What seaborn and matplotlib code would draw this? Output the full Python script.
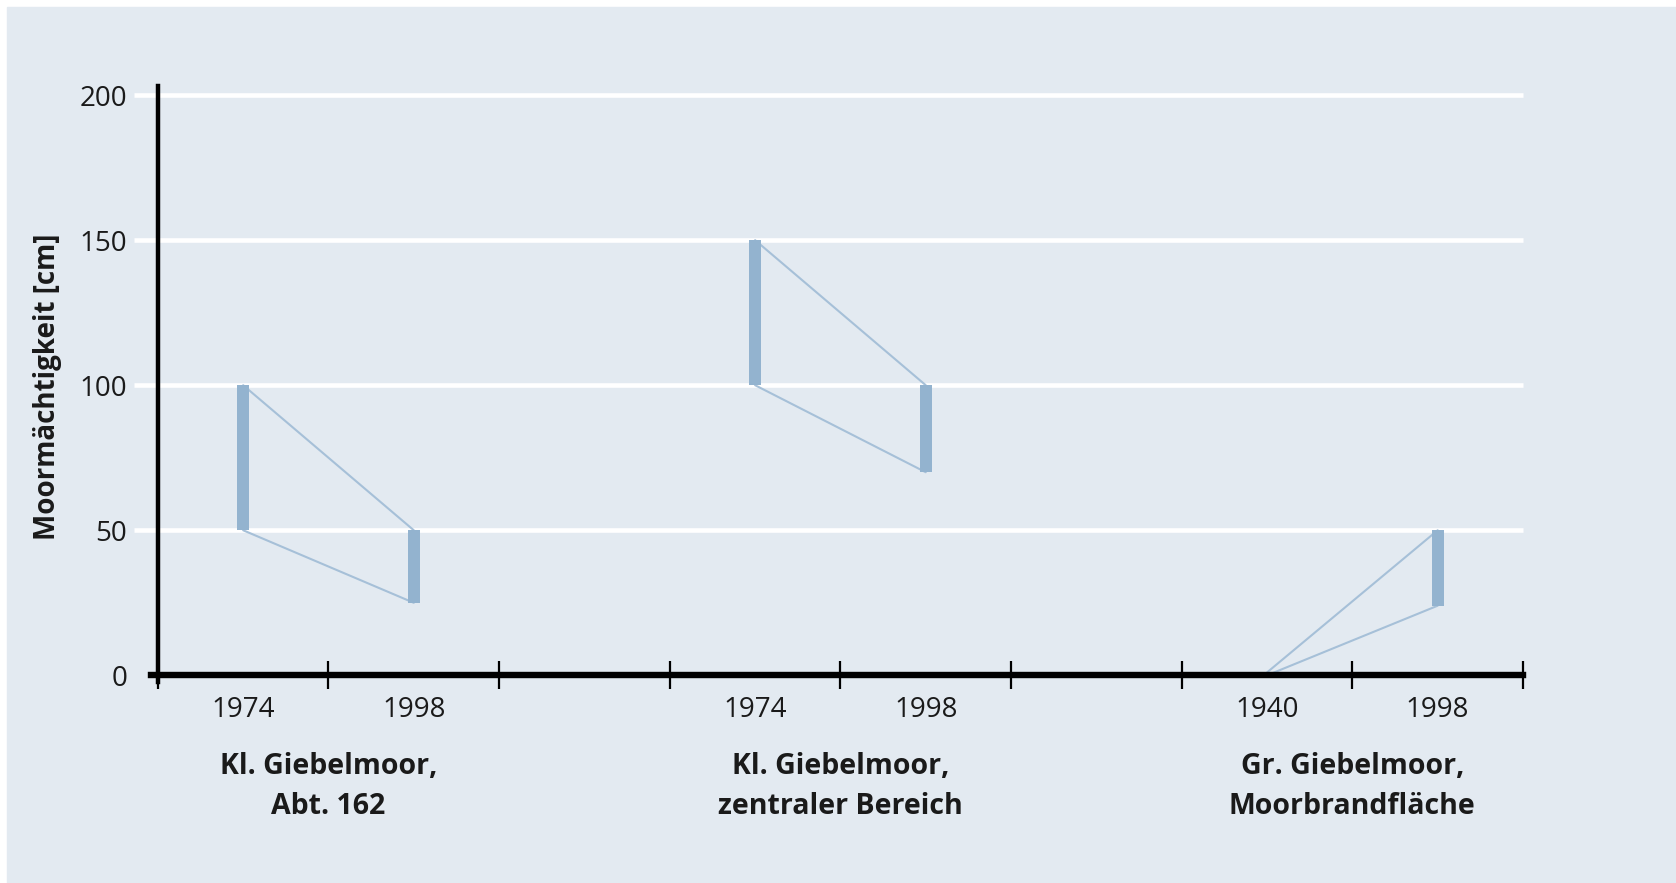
import numpy as np
import pandas as pd
import seaborn as sns
import matplotlib.pyplot as plt
from matplotlib.patches import Rectangle

# Werte
groups = ["Kl. Giebelmoor,\nAbt. 162", "Kl. Giebelmoor,\nzentraler Bereich", "Gr. Giebelmoor,\nMoorbrandfläche"]
years = ["1974", "1998", "1974", "1998", "1940", "1998"]
top = [100, 50, 150, 100, 1, 50]
bottom = [50, 25, 100, 70, 0, 24]
yticks = [0, 50, 100, 150, 200]

bg = "#e3eaf1"
blue = "#93b3cf"
line_blue = "#a6c0d8"

sns.set_theme(style="white")
plt.rcParams["font.family"] = ["Open Sans", "DejaVu Sans"]

# Positionen: je Gruppe zwei Felder, dazwischen ein leeres
xpos = []
for g in range(len(groups)):
    xpos += [3 * g + 0.5, 3 * g + 1.5]
xpos = np.array(xpos)

fig = plt.figure(figsize=(16.76, 8.83), dpi=100, facecolor="white")
fig.patches.append(Rectangle((7 / 1676, 0), 1, 1 - 7 / 883, transform=fig.transFigure,
                             color=bg, zorder=-10))
ax = fig.add_axes([151 / 1676, 201 / 883, (1523 - 151) / 1676, (682 - 85.5) / 883])
ax.set_facecolor("none")

# Verbindungslinien oben/unten
rows = []
for g in range(len(groups)):
    i, j = 2 * g, 2 * g + 1
    for edge, vals in (("top", top), ("bottom", bottom)):
        rows.append({"x": xpos[i], "y": vals[i], "unit": f"{g}-{edge}"})
        rows.append({"x": xpos[j], "y": vals[j], "unit": f"{g}-{edge}"})
df = pd.DataFrame(rows)
sns.lineplot(data=df, x="x", y="y", units="unit", estimator=None, color=line_blue,
             linewidth=1.5, ax=ax, zorder=3)

# Balken
heights = np.array(top) - np.array(bottom)
ax.bar(xpos, heights, bottom=bottom, width=0.07, color=blue, zorder=4, linewidth=0)

# Gitterlinien (reichen etwas links über die Achse hinaus)
ax.hlines(yticks[1:], -0.14, 8, color="white", linewidth=3.3, zorder=1, clip_on=False)

ax.set_xlim(-0.04, 8)
ax.set_ylim(-2.3, 203.3)

for s in ("top", "right"):
    ax.spines[s].set_visible(False)
ax.spines["left"].set_position(("data", 0))
ax.spines["bottom"].set_position(("data", 0))
ax.spines["left"].set_linewidth(3.2)
ax.spines["bottom"].set_linewidth(4.6)
ax.spines["left"].set_color("black")
ax.spines["bottom"].set_color("black")
ax.spines["left"].set_zorder(5)
ax.spines["bottom"].set_zorder(5)

ax.set_yticks(yticks)
ax.set_yticklabels([str(v) for v in yticks])
ax.tick_params(axis="y", left=False, length=0, pad=22, labelsize=20, labelcolor="#1a1a1a")

ax.set_xticks(np.arange(0, 9))
ax.set_xticklabels([])
ax.tick_params(axis="x", which="major", bottom=True, direction="inout", length=20,
               width=1.6, color="black")
ax.set_xticks(xpos, minor=True)
ax.set_xticklabels(years, minor=True)
ax.tick_params(axis="x", which="minor", bottom=True, length=0, pad=15, labelsize=20,
               labelcolor="#1a1a1a")

ax.set_xlabel("")
ax.set_ylabel("")

for g, name in enumerate(groups):
    ax.text(3 * g + 1, -0.118, name, transform=ax.get_xaxis_transform(), ha="center",
            va="top", fontsize=20.5, fontweight="bold", color="#1a1a1a", linespacing=1.5)

fig.text(47 / 1676, 1 - 387 / 883, "Moormächtigkeit [cm]", rotation=90, ha="center",
         va="center", fontsize=20, fontweight="bold", color="#1a1a1a")

fig.savefig("out.png", dpi=100, facecolor="white")
